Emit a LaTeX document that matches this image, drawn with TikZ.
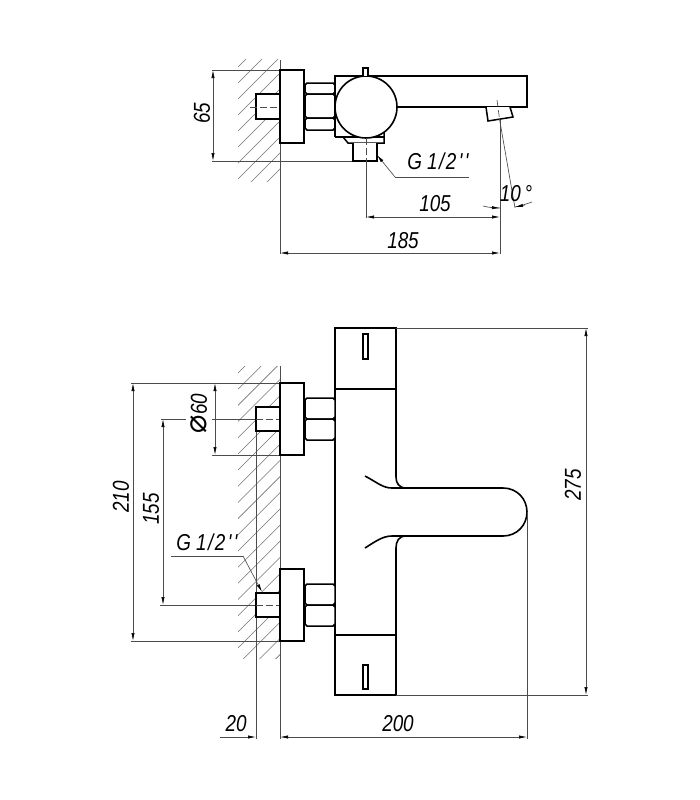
\documentclass[tikz,border=0pt]{standalone}
\usepackage{fontspec}
\usetikzlibrary{arrows.meta}
\newfontfamily\djv{DejaVu Sans}
\newfontfamily\dimfont[FakeStretch=0.82]{Liberation Sans}
\newcommand{\gthread}{G\kern5pt 1\kern1.5pt/\kern1.5pt2\kern2.5pt'\kern2.5pt'}
\definecolor{thinc}{gray}{0.3}
\tikzset{
  x=1pt,y=-1pt,
  thick line/.style={draw=black,line width=1.6pt,line join=miter},
  mid line/.style={draw=black,line width=1.5pt},
  thin line/.style={draw=thinc,line width=0.65pt},
  hatch line/.style={draw=black!55,line width=0.55pt},
  dim arrow/.style={thin line,{Latex[length=8pt,width=3.2pt,black]}-{Latex[length=8pt,width=3.2pt,black]}},
  end arrow/.style={thin line,-{Latex[length=8pt,width=3.2pt,black]}},
  dash line/.style={thin line,dash pattern=on 7pt off 3pt},
  dimtext/.style={inner sep=0pt,font=\fontsize{23}{23}\selectfont\dimfont\itshape},
  whitefill/.style={fill=white}
}
\begin{document}
\begin{tikzpicture}
\useasboundingbox (0,0) rectangle (700,800);
% ---- hatching
\begin{scope}
\clip (238,60) rectangle (280,181);
\foreach \c in {0,...,10} {
  \pgfmathsetmacro{\k}{305+16*\c}
  \draw[hatch line] (200,\k-200) -- (300,\k-300);
}
\end{scope}
\begin{scope}
\clip (238,366) rectangle (280,658);
\foreach \c in {0,...,20} {
  \pgfmathsetmacro{\k}{611+16.18*\c}
  \draw[hatch line] (200,\k-200) -- (300,\k-300);
}
\end{scope}
% ---- TOP VIEW
\draw[thin line] (280,60) -- (280,254);
\draw[thin line] (212,70) -- (280,70);
\draw[thin line] (212,161) -- (353,161);
\draw[dim arrow] (213,70) -- (213,161);
\node[dimtext,rotate=90] (t65) at (202,113) {65};
% stud
\draw[thick line,whitefill] (280,94) -- (256,94) -- (256,119) -- (280,119);
\draw[dash line] (250,107) -- (287,107);
% flange
\draw[thick line,whitefill] (280,70) rectangle (304,143);
% nut
\foreach \a/\b in {83/94,94/118,118/130} {
  \draw[mid line,whitefill] (305,\a+2) -- (307,\a) -- (333,\a) -- (335,\a+2) -- (335,\b-2) -- (333,\b) -- (307,\b) -- (305,\b-2) -- cycle;
}
% spout and body
\draw[thick line] (335,137) -- (335,76) -- (527,76) -- (527,107) -- (397,107);
\draw[thick line] (335,137) -- (384,137);
\draw[mid line] (384,132) -- (384,143) -- (348,143) -- (343,137);
\draw[thick line,whitefill] (366,107) circle (31);
\draw[thick line,whitefill] (363,76) -- (363,68) -- (368,68) -- (368,76);
% outlet
\draw[thick line,whitefill] (353,143) -- (353,161) -- (377,161) -- (377,143);
\draw[thin line] (366,161) -- (366,218);
\draw[dash line] (366,138) -- (366,161);
\draw[thin line] (500,120) -- (500,254);
% spout nozzle
\draw[mid line,whitefill] (486,107) -- (488,121) -- (513,117) -- (510,107);
\draw[dash line] (497,100) -- (499.5,119);
\draw[thin line] (499.5,119) -- (515,208);
% angle arc
\draw[thin line] (483,206) .. controls (489,207.5) and (494,208) .. (500,208);
\draw[thin line] (515,207) .. controls (521,206) and (526,204) .. (532,202);
\draw[end arrow] (490,207.6) -- (500,208);
\draw[end arrow] (525,205) -- (515,207);
% dims
\draw[dim arrow] (366,217) -- (500,217);
\draw[dim arrow] (280,253) -- (500,253);
\node[dimtext] (t105) at (435,204) {105};
\node[dimtext] (t185) at (403,241) {185};
\node[dimtext] (t10) at (516,194) {10\,\char"00B0};
% leader
\draw[end arrow] (395,177) -- (377,155);
\draw[thin line] (395,177) -- (469,177);
\node[dimtext] (tg1) at (438,161) {\gthread};
% ---- FRONT VIEW
\draw[thin line] (280,366) -- (280,739);
% body
\draw[thick line] (335,328) rectangle (396,389);
\draw[thick line] (335,389) -- (335,695) -- (396,695) -- (396,548);
\draw[thick line] (396,389) -- (396,477);
\draw[thick line] (396,477) .. controls (396,483) and (399,488) .. (406,488) -- (503,488)
  .. controls (517,488) and (527,499) .. (527,512)
  .. controls (527,525) and (517,536) .. (503,536) -- (392,536);
\draw[thick line] (396,548) .. controls (396,541) and (399,536) .. (406,536);
\draw[thick line] (365,476) .. controls (378,483) and (383,488) .. (392,488) -- (406,488);
\draw[thick line] (365,548) .. controls (376,541) and (383,536) .. (392,536);
\draw[thick line] (335,635) -- (396,635);
\draw[mid line] (363,334) rectangle (368,359);
\draw[mid line] (363,665) rectangle (368,689);
% extension lines
\draw[thin line] (396,328) -- (588,328);
\draw[thin line] (396,695) -- (588,695);
\draw[thin line] (527,512) -- (527,739);
\draw[thin line] (131,383) -- (280,383);
\draw[thin line] (131,641) -- (280,641);
\draw[thin line] (212,455) -- (280,455);
\draw[thin line] (161,419) -- (186,419);
\draw[thin line] (212,419) -- (256,419);
\draw[thin line] (160,605) -- (256,605);
\draw[thin line] (256,431) -- (256,739);
% dims
\draw[dim arrow] (586,328) -- (586,695);
\draw[dim arrow] (133,383) -- (133,641);
\draw[dim arrow] (163,419) -- (163,605);
\draw[dim arrow] (215,383) -- (215,455);
\draw[end arrow] (220,737) -- (256,737);
\draw[dim arrow] (280,737) -- (527,737);
\node[dimtext,rotate=90] (t275) at (573,485) {275};
\node[dimtext,rotate=90] (t210) at (121,497) {210};
\node[dimtext,rotate=90] (t155) at (151,509) {155};
\node[dimtext,rotate=90] (t60) at (199,414) {{\djv\fontsize{31}{31}\selectfont ⌀}\kern1pt 60};
\node[dimtext] (t200) at (398,724) {200};
\node[dimtext] (t20) at (236,724) {20};
% studs, flanges, nuts
\foreach \m in {419,605} {
  \draw[thick line,whitefill] (280,\m-12) -- (256,\m-12) -- (256,\m+12) -- (280,\m+12);
  \draw[dash line] (256,\m) -- (287,\m);
  \draw[thick line,whitefill] (280,\m-36) rectangle (304,\m+36);
  \foreach \a/\b in {-21/0,0/21} {
    \draw[mid line,whitefill] (305,\m+\a+2) -- (307,\m+\a) -- (333,\m+\a) -- (335,\m+\a+2) -- (335,\m+\b-2) -- (333,\m+\b) -- (307,\m+\b) -- (305,\m+\b-2) -- cycle;
  }
}
% leader
\draw[thin line] (171,556) -- (243,556);
\draw[end arrow] (243,556) -- (262,592);
\node[dimtext] (tg2) at (207,542) {\gthread};
\end{tikzpicture}
\end{document}
